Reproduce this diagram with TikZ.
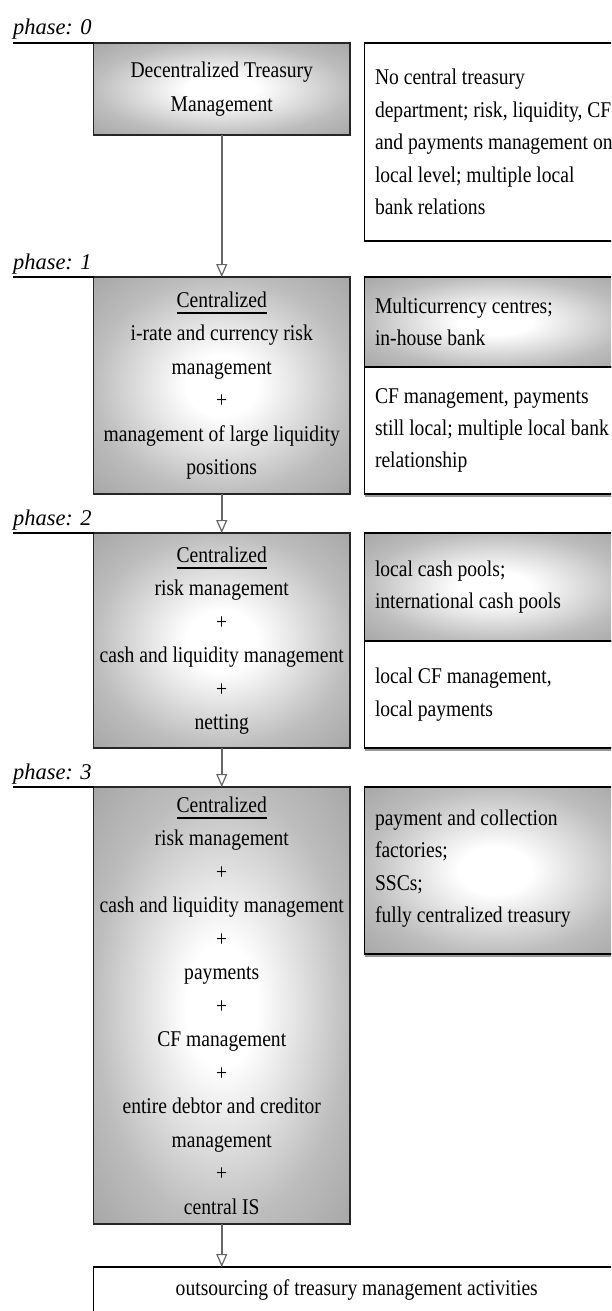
\documentclass[tikz,border=0pt]{standalone}
\usepackage{fontspec}
\setmainfont[FakeStretch=0.87]{Liberation Serif}
\newfontfamily\phasefont{Liberation Serif}
\usetikzlibrary{arrows.meta}

% underlined heading word inside a box
\newcommand\headword[1]{\leavevmode\vtop{\hbox{#1}\kern5pt\hrule height 1.4pt}}

% soft glow: white centre fading to grey at the edges
\pgfdeclareradialshading{softglow}{\pgfpoint{0bp}{0bp}}{%
  color(0bp)=(white); color(7bp)=(white); color(25bp)=(black!26);
  color(36bp)=(black!35); color(50bp)=(black!40)}

\begin{document}
\begin{tikzpicture}[x=1pt,y=-1pt,
  every node/.style={inner sep=0pt, outer sep=0pt},
  stagebox/.style={draw=black!85, line width=1.4pt, shading=softglow,
    align=center, font=\fontsize{22.5}{33.5}\selectfont, minimum width=256.5pt},
  notebox/.style={draw=black, line width=1.4pt, anchor=west, minimum width=261pt},
  shadednote/.style={notebox, shading=softglow},
  notetext/.style={anchor=west, align=left, font=\fontsize{22.5}{32.4}\selectfont},
  noteshadow/.style={draw=black!40, line width=2pt},
  phaselabel/.style={font=\phasefont\itshape\fontsize{22.5}{27}\selectfont, anchor=base west},
  rule/.style={draw=black, line width=1.2pt},
  flow/.style={draw=black!60, line width=1.6pt,
    -{Triangle[open, length=13pt, width=11pt, fill=white, line width=1.2pt]}}
]
\useasboundingbox (0,0) rectangle (611,1311);
\clip (0,0) rectangle (611,1311);

% ---- notes on the right ----
\node[notebox, fill=white, minimum height=198pt] (n0) at (364.5,142) {};
\node[shadednote, minimum height=90pt] (n1a) at (364.5,322) {};
\node[notebox, fill=white, minimum height=127pt] (n1b) at (364.5,430.5) {};
\node[shadednote, minimum height=108pt] (n2a) at (364.5,587) {};
\node[notebox, fill=white, minimum height=107pt] (n2b) at (364.5,694.5) {};
\node[shadednote, minimum height=167pt] (n3) at (364.5,870.5) {};
\foreach \n in {n1b,n2b,n3}{
  \draw[noteshadow] ([yshift=-2.4pt]\n.south west) -- ([yshift=-2.4pt]\n.south east);
}

\node[notetext] (t0) at ([xshift=10.5pt]n0.west)
  {No central treasury\\department; risk, liquidity, CF\\and payments management on\\local level; multiple local\\bank relations};
\node[notetext] (t1a) at ([xshift=10.5pt]n1a.west)
  {Multicurrency centres;\\in-house bank};
\node[notetext] (t1b) at ([xshift=10.5pt]n1b.west)
  {CF management, payments\\still local; multiple local bank\\relationship};
\node[notetext] (t2a) at ([xshift=10.5pt]n2a.west)
  {local cash pools;\\international cash pools};
\node[notetext] (t2b) at ([xshift=10.5pt]n2b.west)
  {local CF management,\\local payments};
\node[notetext] (t3) at ([xshift=10.5pt,yshift=2pt]n3.west)
  {payment and collection\\factories;\\SSCs;\\fully centralized treasury};

% ---- stage boxes ----
\node[stagebox, minimum height=92pt] (b0) at (221.75,89) {Decentralized Treasury\\Management};
\node[stagebox, minimum height=217pt] (b1) at (221.75,385.5)
  {\headword{Centralized}\\i-rate and currency risk\\management\\+\\management of large liquidity\\positions};
\node[stagebox, minimum height=215pt] (b2) at (221.75,640.5)
  {\headword{Centralized}\\risk management\\+\\cash and liquidity management\\+\\netting};
\node[stagebox, minimum height=437pt] (b3) at (221.75,1005.5)
  {\headword{Centralized}\\risk management\\+\\cash and liquidity management\\+\\payments\\+\\CF management\\+\\entire debtor and creditor\\management\\+\\central IS};
\node[draw=black, line width=1.4pt, fill=white, minimum width=526.5pt, minimum height=46pt,
  font=\fontsize{22.5}{33.5}\selectfont] (b4) at (356.75,1290)
  {outsourcing of treasury management activities};

% ---- phase labels with their rules ----
\node[phaselabel] (p0) at (13,35) {phase: 0};
\node[phaselabel] (p1) at (13,269) {phase: 1};
\node[phaselabel] (p2) at (13,525) {phase: 2};
\node[phaselabel] (p3) at (13,779) {phase: 3};
\foreach \p/\b in {p0/b0,p1/b1,p2/b2,p3/b3}{
  \coordinate (\p u) at (\p.base west |- \b.north);
  \draw[rule] (\p u) -- (\b.north west);
}

% ---- flow arrows ----
\draw[flow] (b0) -- (b1);
\draw[flow] (b1) -- (b2);
\draw[flow] (b2) -- (b3);
\draw[flow] (b3.south) -- (b3.south |- b4.north);
\end{tikzpicture}
\end{document}
